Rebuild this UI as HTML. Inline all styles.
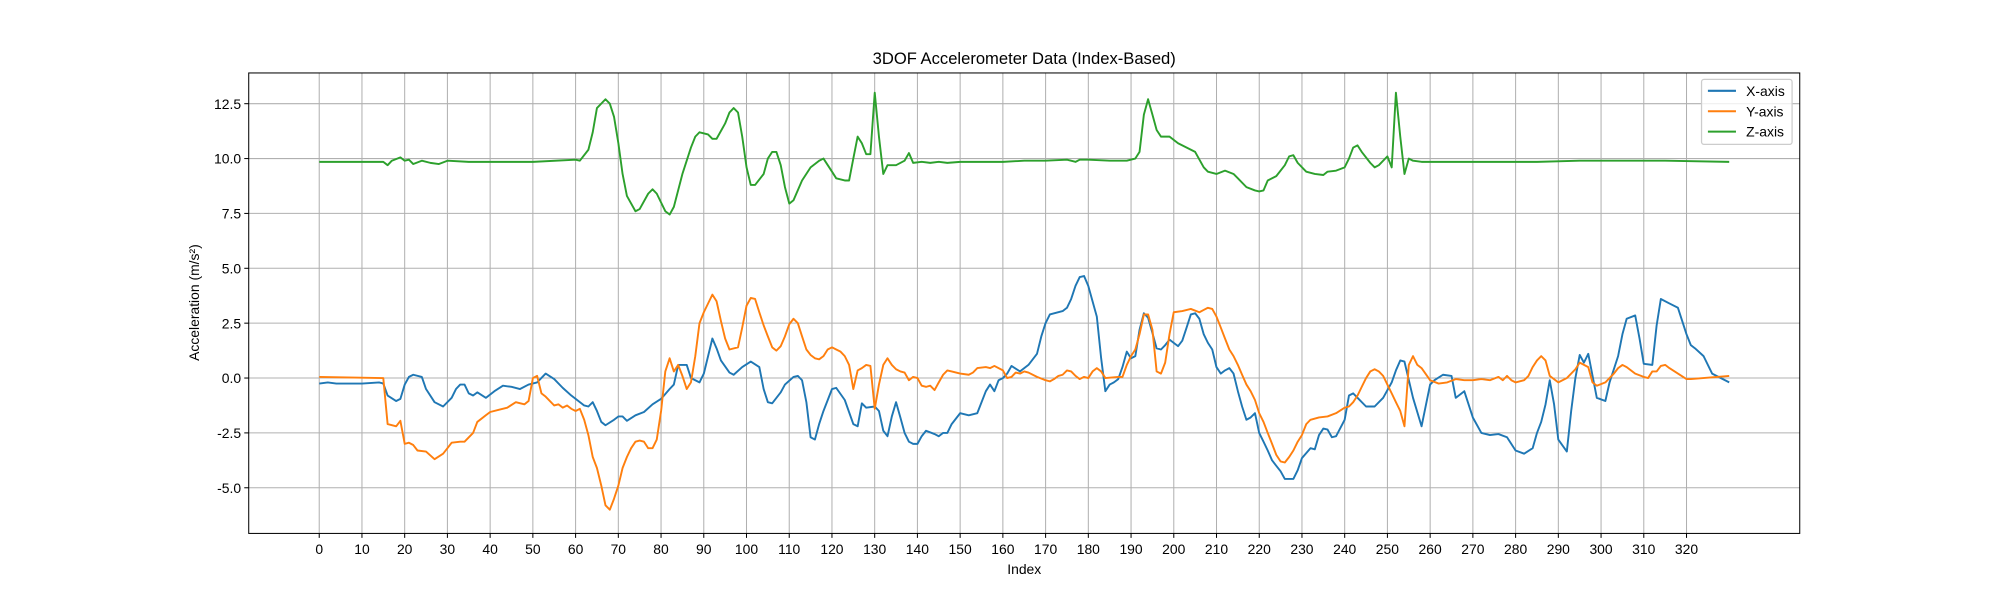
<!DOCTYPE html>
<html><head><meta charset="utf-8"><style>
body{margin:0;background:#fff;}
svg text{font-family:"Liberation Sans","DejaVu Sans",sans-serif;fill:#000;}
</style></head><body>
<svg id="chart" width="2000" height="600" viewBox="0 0 1568 470" xmlns="http://www.w3.org/2000/svg">
<rect x="0" y="0" width="1568" height="470" fill="#fff"/>
<g id="grid"></g><g id="series"></g><g id="axes"></g>
<text x="803" y="50" font-size="13" text-anchor="middle">3DOF Accelerometer Data (Index-Based)</text>
<text x="803" y="450" font-size="10.9" text-anchor="middle">Index</text>
<text x="156" y="237" font-size="10.9" text-anchor="middle" transform="rotate(-90 156 237)">Acceleration (m/s²)</text>
<g>
<rect x="1334" y="62" width="71" height="51" fill="#fff" fill-opacity="0.8" stroke="#ccc" rx="2"/>
<line x1="1339" y1="71" x2="1361" y2="71" stroke="#1f77b4" stroke-width="1.6"/><text x="1369" y="75" font-size="10.9">X-axis</text>
<line x1="1339" y1="87" x2="1361" y2="87" stroke="#ff7f0e" stroke-width="1.6"/><text x="1369" y="91" font-size="10.9">Y-axis</text>
<line x1="1339" y1="103" x2="1361" y2="103" stroke="#2ca02c" stroke-width="1.6"/><text x="1369" y="107" font-size="10.9">Z-axis</text>
</g>
</svg>
<script>
const xTicks=[0,10,20,30,40,50,60,70,80,90,100,110,120,130,140,150,160,170,180,190,200,210,220,230,240,250,260,270,280,290,300,310,320];
const yTicks=[-5.0,-2.5,0.0,2.5,5.0,7.5,10.0,12.5];
const xIdx=[0,2,4,10,14,15,16,18,19,20,21,22,24,25,27,29,31,32,33,34,35,36,37,39,41,43,45,47,49,51,53,55,57,59,61,62,63,64,65,66,67,69,70,71,72,74,76,78,80,82,83,84,86,87,88,89,90,92,93,94,96,97,99,101,103,104,105,106,108,109,111,112,113,114,115,116,117,118,120,121,123,125,126,127,128,130,131,132,133,134,135,136,137,138,139,140,141,142,144,145,146,147,148,150,152,154,156,157,158,159,160,161,162,164,166,168,169,170,171,172,174,175,176,177,178,179,180,182,183,184,185,186,187,188,189,190,191,192,193,194,195,196,197,198,199,200,201,202,203,204,205,206,207,208,209,210,211,212,213,214,215,216,217,218,219,220,221,222,223,224,225,226,228,229,230,232,233,234,235,236,237,238,240,241,242,243,245,247,249,251,252,253,254,256,258,260,261,263,265,266,268,270,272,274,276,278,280,282,284,285,286,287,288,289,290,292,293,294,295,296,297,299,301,302,304,305,306,308,309,310,312,313,314,316,318,320,321,322,324,326,330];
const xVals=[-0.25,-0.2,-0.25,-0.25,-0.2,-0.25,-0.8,-1.05,-0.95,-0.3,0.05,0.15,0.05,-0.5,-1.1,-1.3,-0.9,-0.5,-0.3,-0.3,-0.7,-0.8,-0.65,-0.9,-0.6,-0.35,-0.4,-0.5,-0.3,-0.2,0.2,-0.05,-0.45,-0.8,-1.1,-1.25,-1.3,-1.1,-1.5,-2.0,-2.15,-1.9,-1.75,-1.75,-1.95,-1.7,-1.55,-1.2,-0.95,-0.5,-0.3,0.6,0.6,0.0,-0.1,-0.2,0.2,1.8,1.35,0.8,0.25,0.15,0.5,0.75,0.5,-0.5,-1.1,-1.15,-0.65,-0.3,0.05,0.1,-0.1,-1.1,-2.7,-2.8,-2.1,-1.5,-0.5,-0.45,-1.0,-2.1,-2.2,-1.15,-1.35,-1.3,-1.5,-2.4,-2.65,-1.75,-1.1,-1.8,-2.5,-2.9,-3.0,-3.0,-2.65,-2.4,-2.55,-2.65,-2.5,-2.5,-2.1,-1.6,-1.7,-1.6,-0.6,-0.3,-0.6,-0.1,0.0,0.2,0.55,0.3,0.6,1.1,1.9,2.5,2.9,2.95,3.05,3.2,3.6,4.2,4.6,4.65,4.2,2.8,0.9,-0.6,-0.3,-0.2,-0.05,0.5,1.2,0.9,1.0,2.2,2.95,2.75,2.05,1.35,1.3,1.5,1.75,1.6,1.45,1.7,2.3,2.9,2.95,2.7,2.0,1.6,1.3,0.5,0.2,0.35,0.45,0.2,-0.6,-1.3,-1.9,-1.8,-1.6,-2.5,-2.9,-3.3,-3.75,-4.0,-4.25,-4.6,-4.6,-4.2,-3.65,-3.2,-3.25,-2.6,-2.3,-2.35,-2.7,-2.65,-1.9,-0.8,-0.7,-0.9,-1.3,-1.3,-0.9,-0.2,0.35,0.8,0.75,-0.9,-2.2,-0.3,-0.1,0.15,0.1,-0.9,-0.6,-1.8,-2.5,-2.6,-2.55,-2.7,-3.3,-3.45,-3.2,-2.5,-2.0,-1.2,-0.1,-1.2,-2.8,-3.35,-1.5,0.0,1.05,0.7,1.1,-0.9,-1.05,-0.2,1.0,2.0,2.7,2.85,1.8,0.65,0.6,2.4,3.6,3.4,3.2,2.0,1.5,1.35,1.0,0.2,-0.2,-0.25,-0.2];
const yIdx=[0,15,16,18,19,20,21,22,23,25,27,29,30,31,33,34,36,37,39,40,42,44,46,48,49,50,51,52,53,55,56,57,58,59,60,61,62,63,64,65,66,67,68,69,70,71,72,73,74,75,76,77,78,79,80,81,82,83,84,85,86,87,88,89,90,92,93,94,95,96,98,99,100,101,102,103,104,105,106,107,108,109,110,111,112,113,114,115,116,117,118,119,120,121,122,123,124,125,126,127,128,129,130,131,132,133,134,135,136,137,138,139,140,141,142,143,144,145,146,147,148,150,152,153,154,156,157,158,160,161,162,163,164,165,166,168,170,171,172,173,174,175,176,177,178,179,180,181,182,183,184,187,188,189,190,191,192,193,194,195,196,197,198,199,200,202,204,206,207,208,209,210,211,212,213,214,215,216,217,218,219,220,221,222,223,224,225,226,227,228,229,230,231,232,234,236,238,240,241,242,243,244,245,246,247,248,249,250,251,252,253,254,255,256,257,258,260,262,264,266,268,270,272,274,276,277,278,279,280,282,283,284,285,286,287,288,290,292,294,295,297,298,299,301,303,304,305,306,308,310,311,312,313,314,315,316,318,320,321,330];
const yVals=[0.05,0.0,-2.1,-2.2,-1.95,-3.0,-2.95,-3.05,-3.3,-3.35,-3.7,-3.45,-3.2,-2.95,-2.9,-2.9,-2.5,-2.0,-1.7,-1.55,-1.45,-1.35,-1.1,-1.2,-1.05,0.0,0.1,-0.7,-0.85,-1.25,-1.2,-1.35,-1.25,-1.4,-1.5,-1.4,-1.9,-2.6,-3.6,-4.1,-4.9,-5.8,-6.0,-5.5,-4.9,-4.1,-3.6,-3.2,-2.9,-2.85,-2.9,-3.2,-3.2,-2.8,-1.5,0.3,0.9,0.3,0.6,0.1,-0.5,-0.2,1.0,2.5,3.0,3.8,3.5,2.6,1.8,1.3,1.4,2.3,3.3,3.65,3.6,3.0,2.4,1.9,1.4,1.25,1.45,1.9,2.45,2.7,2.5,1.9,1.3,1.05,0.9,0.85,1.0,1.3,1.4,1.3,1.2,1.0,0.6,-0.5,0.35,0.45,0.6,0.55,-1.4,-0.3,0.6,0.9,0.6,0.4,0.3,0.25,-0.1,0.05,0.0,-0.35,-0.4,-0.35,-0.55,-0.2,0.15,0.35,0.3,0.2,0.15,0.25,0.45,0.5,0.45,0.55,0.35,0.0,0.05,0.25,0.2,0.3,0.25,0.05,-0.1,-0.15,-0.05,0.1,0.15,0.35,0.3,0.1,-0.05,0.05,0.0,0.3,0.45,0.3,0.0,0.05,0.05,0.6,1.0,1.3,2.0,2.9,2.9,2.2,0.3,0.2,0.7,2.0,3.0,3.05,3.15,3.0,3.1,3.2,3.15,2.8,2.3,1.8,1.3,1.0,0.6,0.15,-0.3,-0.6,-1.0,-1.6,-2.0,-2.5,-3.0,-3.5,-3.8,-3.85,-3.6,-3.3,-2.9,-2.6,-2.1,-1.9,-1.8,-1.75,-1.6,-1.35,-1.3,-1.1,-0.8,-0.4,0.0,0.3,0.4,0.3,0.1,-0.3,-0.7,-1.1,-1.5,-2.2,0.6,1.0,0.6,0.45,-0.1,-0.25,-0.2,-0.05,-0.1,-0.1,-0.05,-0.1,0.05,-0.1,0.1,-0.1,-0.2,-0.1,0.1,0.5,0.8,1.0,0.8,0.1,-0.2,0.0,0.4,0.7,0.5,-0.2,-0.35,-0.2,0.2,0.45,0.6,0.5,0.2,0.05,0.0,0.3,0.3,0.55,0.6,0.45,0.2,-0.05,-0.05,0.1,0.05];
const zIdx=[0,15,16,17,19,20,21,22,24,26,28,30,35,40,50,60,61,63,64,65,67,68,69,70,71,72,74,75,77,78,79,81,82,83,85,87,88,89,91,92,93,95,96,97,98,99,100,101,102,104,105,106,107,108,109,110,111,113,115,117,118,120,121,123,124,125,126,127,128,129,130,131,132,133,135,137,138,139,141,143,145,147,150,155,160,165,170,175,177,178,180,185,189,191,192,193,194,195,196,197,199,201,205,207,208,210,212,214,215,217,219,220,221,222,224,226,227,228,229,231,233,235,236,238,240,241,242,243,244,246,247,248,250,251,252,253,254,255,256,258,265,275,285,295,305,315,330];
const zVals=[9.85,9.85,9.7,9.9,10.05,9.9,9.95,9.75,9.9,9.8,9.75,9.9,9.85,9.85,9.85,9.95,9.9,10.4,11.2,12.3,12.7,12.5,11.9,10.7,9.3,8.3,7.6,7.7,8.4,8.6,8.4,7.6,7.45,7.8,9.3,10.5,11.0,11.2,11.1,10.9,10.9,11.6,12.1,12.3,12.1,11.0,9.6,8.8,8.8,9.3,10.0,10.3,10.3,9.7,8.7,7.95,8.1,9.0,9.6,9.9,10.0,9.4,9.1,9.0,9.0,10.0,11.0,10.7,10.2,10.2,13.0,11.0,9.3,9.7,9.7,9.9,10.25,9.8,9.85,9.8,9.85,9.8,9.85,9.85,9.85,9.9,9.9,9.95,9.85,9.95,9.95,9.9,9.9,10.0,10.3,12.0,12.7,12.0,11.3,11.0,11.0,10.7,10.3,9.6,9.4,9.3,9.45,9.3,9.1,8.7,8.55,8.5,8.55,9.0,9.2,9.7,10.1,10.15,9.8,9.4,9.3,9.25,9.4,9.45,9.6,10.0,10.5,10.6,10.3,9.8,9.6,9.7,10.1,9.6,13.0,11.0,9.3,10.0,9.9,9.85,9.85,9.85,9.85,9.9,9.9,9.9,9.85];

const L=195,R=1411,T=57,B=418;
const xMin=-16.5,xMax=346.5,yMin=-7.08,yMax=13.9;
function sx(v){return L+(v-xMin)/(xMax-xMin)*(R-L);}
function sy(v){return B-(v-yMin)/(yMax-yMin)*(B-T);}
const NS="http://www.w3.org/2000/svg";
function mk(tag,attrs,parent){const e=document.createElementNS(NS,tag);for(const k in attrs)e.setAttribute(k,attrs[k]);parent.appendChild(e);return e;}
const grid=document.getElementById('grid'),axes=document.getElementById('axes'),ser=document.getElementById('series');
xTicks.forEach(t=>{
  const g=mk('line',{x1:sx(t),x2:sx(t),y1:T,y2:B,stroke:'#b0b0b0','stroke-width':0.8},grid);
  
  
  mk('line',{x1:sx(t),x2:sx(t),y1:B,y2:B+3.5,stroke:'#000','stroke-width':0.8},axes);
  const tx=mk('text',{x:sx(t),y:B+16,'font-size':10.9,'text-anchor':'middle'},axes);
  tx.textContent=t;
  
  
});
yTicks.forEach(t=>{
  const g=mk('line',{x1:L,x2:R,y1:sy(t),y2:sy(t),stroke:'#b0b0b0','stroke-width':0.8},grid);
  
  
  mk('line',{x1:L-3.5,x2:L,y1:sy(t),y2:sy(t),stroke:'#000','stroke-width':0.8},axes);
  const tx=mk('text',{x:L-6,y:sy(t)+4,'font-size':10.9,'text-anchor':'end'},axes);
  tx.textContent=t.toFixed(1);
  
  
});
const frame=mk('rect',{x:L,y:T,width:R-L,height:B-T,fill:'none',stroke:'#000','stroke-width':0.8},axes);


function line(idx,vals,color,name){
  const d=idx.map((i,k)=>(k?'L':'M')+sx(i).toFixed(1)+','+sy(vals[k]).toFixed(1)).join('');
  const p=mk('path',{d:d,fill:'none',stroke:color,'stroke-width':1.5,'stroke-linejoin':'round'},ser);
  
  
}
line(xIdx,xVals,'#1f77b4','x-axis-line');
line(yIdx,yVals,'#ff7f0e','y-axis-line');
line(zIdx,zVals,'#2ca02c','z-axis-line');
</script>
</body></html>
